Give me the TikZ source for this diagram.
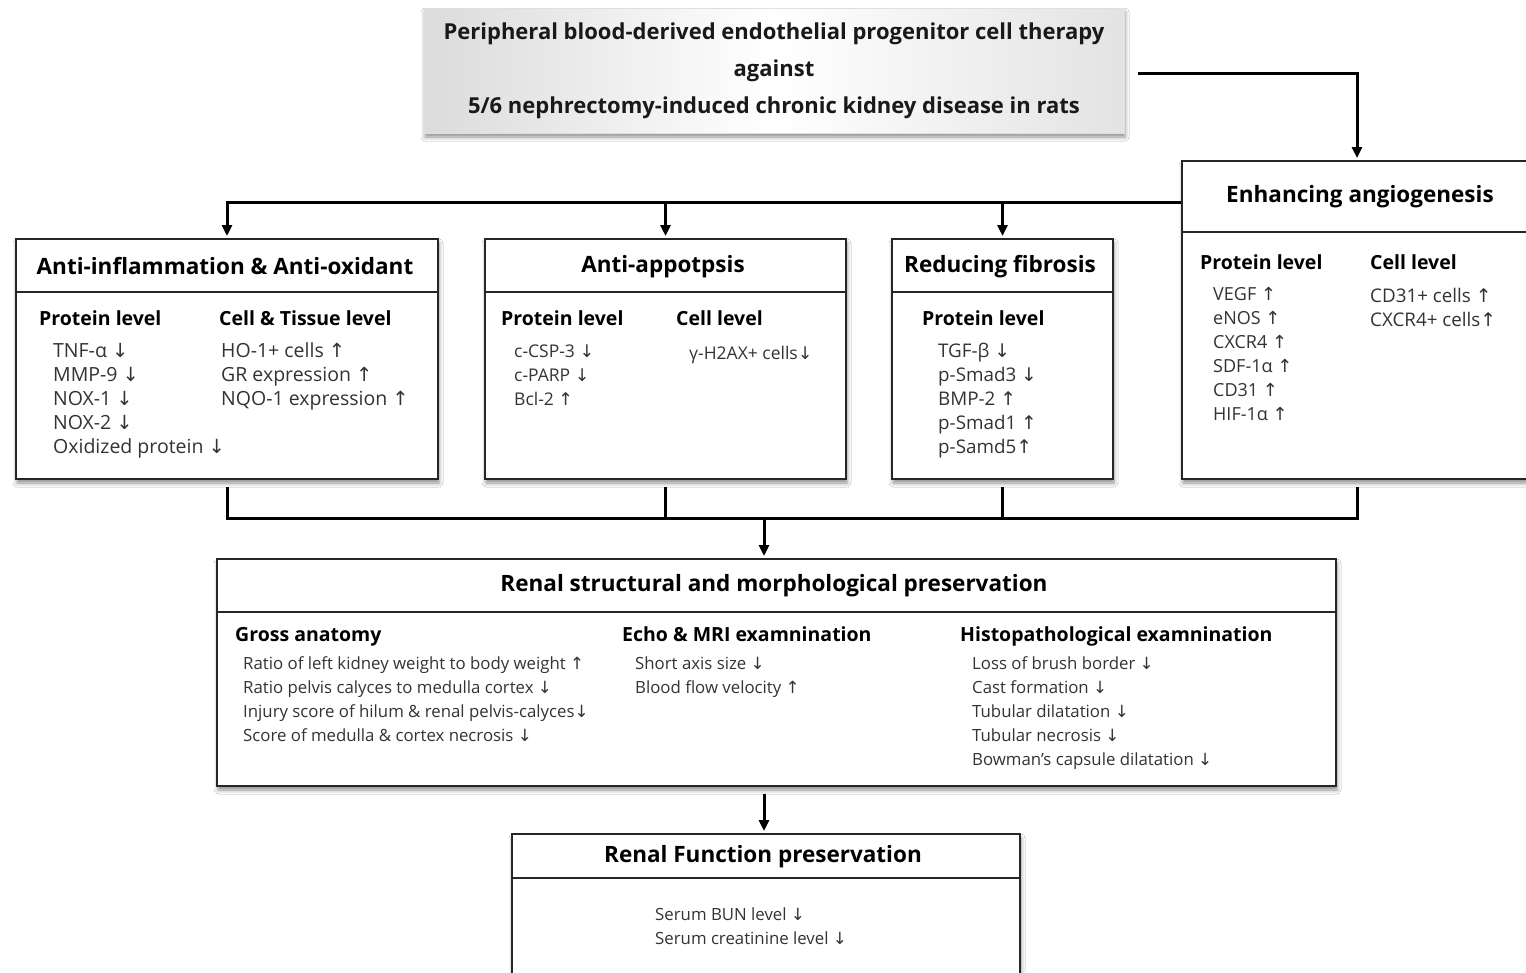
\documentclass[tikz,border=0pt]{standalone}
\usepackage{fontspec}
\setmainfont{Open Sans}
\newfontfamily\arrowfont{DejaVu Sans}
\newcommand{\dn}{{\arrowfont ↓}}
\newcommand{\upa}{{\arrowfont ↑}}
\usetikzlibrary{shadows.blur,arrows.meta}
\tikzset{
  box/.style={draw=black!85, line width=2pt, fill=white, anchor=north west, inner sep=0pt,
    blur shadow={shadow xshift=1pt, shadow yshift=-4pt, shadow blur radius=4pt, shadow opacity=45}},
  titlebox/.style={draw=gray!25, line width=0.8pt, left color=gray!28, right color=gray!22, middle color=white,
    align=center, inner sep=0pt, font=\bfseries\fontsize{22}{37}\selectfont, text=black!90,
    blur shadow={shadow xshift=1pt, shadow yshift=-4pt, shadow blur radius=4pt, shadow opacity=45}},
  hdr/.style={font=\bfseries\fontsize{22.5}{26}\selectfont, text=black},
  sub/.style={font=\bfseries\fontsize{19.5}{22}\selectfont, anchor=base west, inner sep=0pt, text=black},
  itm/.style={font=\fontsize{18}{22}\selectfont, anchor=base west, inner sep=0pt, text=black!80},
  itmb/.style={itm, font=\fontsize{19.5}{22}\selectfont},
  itms/.style={itm, font=\fontsize{17.5}{22}\selectfont},
  itmc/.style={itm, font=\fontsize{18.8}{22}\selectfont},
  itmr/.style={itm, font=\fontsize{16.8}{22}\selectfont},
  link/.style={line width=3pt, black},
  arr/.style={link, -{Triangle[length=11pt,width=10pt]}, shorten >=2pt},
  divider/.style={line width=2pt, black!85}
}
% style, name prefix, x, first baseline y, list of lines
\newcommand{\itemcol}[5]{\foreach \t [count=\i from 0] in {#5} {\node[#1] (#2\i) at (#3,{#4+24*\i}) {\t};}}
\begin{document}
\begin{tikzpicture}[x=1pt,y=-1pt]
\useasboundingbox (0,0) rectangle (1526,972);
\clip (0,0) rectangle (1526,972);
\fill[white] (0,0) rectangle (1526,972);

% title
\node[titlebox, minimum width=700pt, minimum height=125pt] (title) at (774,70.5)
  {Peripheral blood-derived endothelial progenitor cell therapy\\against\\5/6 nephrectomy-induced chronic kidney disease in rats};

% boxes
\node[box, minimum width=350pt, minimum height=318pt] (enh) at (1181,160) {};
\node[box, minimum width=422pt, minimum height=240pt] (b1) at (15,238) {};
\node[box, minimum width=361pt, minimum height=240pt] (b2) at (484,238) {};
\node[box, minimum width=221pt, minimum height=240pt] (b3) at (891,238) {};
\node[box, minimum width=1119pt, minimum height=227pt] (rs) at (216,558) {};
\node[box, minimum width=508pt, minimum height=170pt] (rf) at (511,833) {};

% dividers
\draw[divider] (enh.west |- 0,232) -- (enh.east |- 0,232);
\draw[divider] (b1.west |- 0,292) -- (b1.east |- 0,292);
\draw[divider] (b2.west |- 0,292) -- (b2.east |- 0,292);
\draw[divider] (b3.west |- 0,292) -- (b3.east |- 0,292);
\draw[divider] (rs.west |- 0,612) -- (rs.east |- 0,612);
\draw[divider] (rf.west |- 0,878) -- (rf.east |- 0,878);

% headers
\node[hdr] (enht) at (1360,197) {Enhancing angiogenesis};
\node[hdr] (b1t) at (225,266) {Anti-inflammation \& Anti-oxidant};
\node[hdr] (b2t) at (663,267) {Anti-appotpsis};
\node[hdr] (b3t) at (1000,267) {Reducing fibrosis};
\node[hdr] (rst) at (774,586) {Renal structural and morphological preservation};
\node[hdr] (rft) at (763,857) {Renal Function preservation};

% box 1
\node[sub] (b1s1) at (39,325) {Protein level};
\node[sub] (b1s2) at (219,325) {Cell \& Tissue level};
\itemcol{itmb}{b1a}{53}{357}{TNF-α \dn,MMP-9 \dn,NOX-1 \dn,NOX-2 \dn,Oxidized protein \dn}
\itemcol{itmb}{b1b}{221}{357}{HO-1+ cells \upa,GR expression \upa,NQO-1 expression \upa}

% box 2
\node[sub] (b2s1) at (501,325) {Protein level};
\node[sub] (b2s2) at (676,325) {Cell level};
\itemcol{itms}{b2a}{514}{357}{c-CSP-3 \dn,c-PARP \dn,Bcl-2 \upa}
\itemcol{itms}{b2b}{689}{359}{γ-H2AX+ cells\dn}

% box 3
\node[sub] (b3s1) at (922,325) {Protein level};
\itemcol{itmc}{b3a}{938}{357}{TGF-β \dn,p-Smad3 \dn,BMP-2 \upa,p-Smad1 \upa,p-Samd5\upa}

% enhancing
\node[sub] (es1) at (1200,269) {Protein level};
\node[sub] (es2) at (1370,269) {Cell level};
\itemcol{itm}{ea}{1213}{300}{VEGF \upa,eNOS \upa,CXCR4 \upa,SDF-1α \upa,CD31 \upa,HIF-1α \upa}
\itemcol{itmc}{eb}{1370}{302}{CD31+ cells \upa,CXCR4+ cells\upa}

% renal structural
\node[sub] (rss1) at (235,641) {Gross anatomy};
\node[sub] (rss2) at (622,641) {Echo \& MRI examnination};
\node[sub] (rss3) at (960,641) {Histopathological examnination};
\itemcol{itmr}{rsa}{243}{669}{Ratio of left kidney weight to body weight \upa,Ratio pelvis calyces to medulla cortex \dn,Injury score of hilum \& renal pelvis-calyces\dn,Score of medulla \& cortex necrosis \dn}
\itemcol{itmr}{rsb}{635}{669}{Short axis size \dn,Blood flow velocity \upa}
\itemcol{itmr}{rsc}{972}{669}{Loss of brush border \dn,Cast formation \dn,Tubular dilatation \dn,Tubular necrosis \dn,Bowman's capsule dilatation \dn}

% renal function
\itemcol{itmr}{rfa}{655}{920}{Serum BUN level \dn,Serum creatinine level \dn}

% connectors
\coordinate (tr) at (1138,73);
\draw[arr] (tr) -| (enh.north);
\draw[arr] (enh.west |- 0,202) -| (b1.north);
\draw[arr] (b2.north |- 0,202) -- (b2.north);
\draw[arr] (b3.north |- 0,202) -- (b3.north);
\coordinate (m) at (764,518);
\draw[link] ([yshift=-7pt]b1.south) -- (b1.south |- m) -- (enh.south |- m) -- ([yshift=-7pt]enh.south);
\draw[link] ([yshift=-7pt]b2.south) -- (b2.south |- m);
\draw[link] ([yshift=-7pt]b3.south) -- (b3.south |- m);
\draw[arr] (m) -- (m |- rs.north);
\draw[arr] ([yshift=-7pt]rs.south -| m) -- (m |- rf.north);
\end{tikzpicture}
\end{document}
